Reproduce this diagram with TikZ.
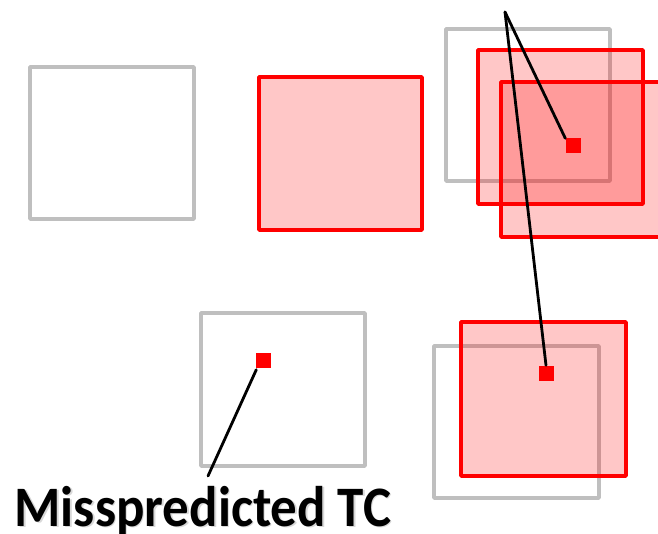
\documentclass[tikz,border=0pt]{standalone}
\usepackage{fontspec}
\setmainfont{Carlito}
\begin{document}
\begin{tikzpicture}[x=1pt,y=-1pt,
  plainbox/.style={draw=black!25, line width=3.6pt, line join=round},
  hitbox/.style={draw=red, line width=3.6pt, line join=round, fill=red, fill opacity=0.22},
  marker/.style={fill=red, inner sep=0pt, minimum size=15pt},
  pointer/.style={draw=black, line width=2.8pt, line cap=round},
  caption/.style={anchor=base west, font=\fontsize{53}{56}\selectfont\bfseries, yscale=1.08}]
\useasboundingbox (0,0) rectangle (658,534);

% upper row
\draw[plainbox] (30,67) rectangle (194,219);
\draw[hitbox] (259,77) rectangle (422,230);
\draw[plainbox] (446,29) rectangle (610,181);
\draw[hitbox] (478,50) rectangle (643,204);
\draw[hitbox] (501,82) rectangle (664,237);

% lower row
\draw[plainbox] (201,313) rectangle (365,466);
\draw[plainbox] (434,346) rectangle (599,498);
\draw[hitbox] (461,322) rectangle (626,476);

% marked points
\node[marker] (m1) at (573,146) {};
\node[marker] (m2) at (546,373) {};
\node[marker] (m3) at (263,360) {};

% leader lines
\coordinate (apex) at (505,12);
\coordinate (tcend) at (208,476);
\draw[pointer] (apex) -- (m1.north west);
\draw[pointer] (apex) -- (m2.north);
\draw[pointer] (m3.south west) ++(1,2) -- (tcend);

% caption with a soft drop shadow
\node[caption, text=black!30, opacity=0.5] (tcshadow) at (12.5,527.5) {Misspredicted TC};
\node[caption] (tc) at (11,526) {Misspredicted TC};
\end{tikzpicture}
\end{document}
